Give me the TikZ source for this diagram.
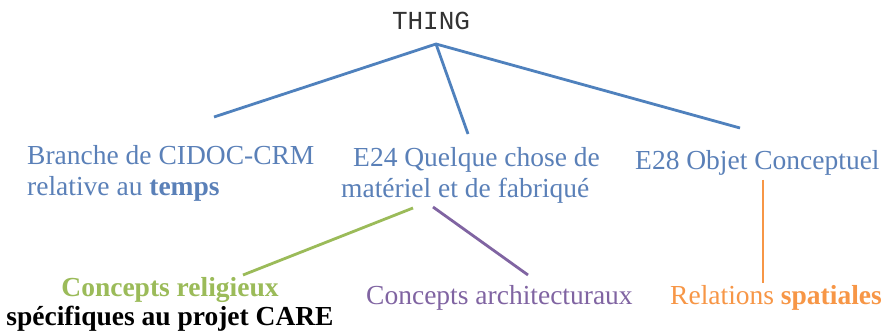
\documentclass[tikz,border=0pt]{standalone}
\usepackage{fontspec}
\setmainfont{Liberation Serif}
\newfontfamily\monofnt{Liberation Mono}
\definecolor{cblue}{HTML}{4F81BD}
\definecolor{ctblue}{HTML}{5A80B8}
\definecolor{cgreen}{HTML}{9BBB59}
\definecolor{cpurple}{HTML}{8064A2}
\definecolor{corange}{HTML}{F79646}
\begin{document}
\begin{tikzpicture}[x=1pt,y=-1pt,
  lbl/.style={inner sep=0pt,anchor=base west,font=\fontsize{27.5}{33}\selectfont},
  lblc/.style={lbl,anchor=base},
  link/.style={line width=2.8pt}]
\useasboundingbox[fill=white] (0,0) rectangle (885,336);
\node[inner sep=0pt,anchor=base,font=\monofnt\fontsize{26}{30}\selectfont,text=black!80] (thing) at (431,30) {THING};
% level 1
\node[lbl,text=ctblue] (b1) at (27,165) {Branche de CIDOC-CRM};
\node[lbl,text=ctblue] (b2) at (27,196) {relative au \textbf{temps}};
\node[lbl,text=ctblue] (e1) at (353,167) {E24 Quelque chose de};
\node[lbl,text=ctblue] (e2) at (341,198) {matériel et de fabriqué};
\node[lbl,text=ctblue] (o1) at (635,170) {E28 Objet Conceptuel};
% level 2
\node[lblc,text=cgreen,font=\bfseries\fontsize{27.5}{33}\selectfont] (r1) at (170,297) {Concepts religieux};
\node[lblc,text=black,font=\bfseries\fontsize{27.5}{33}\selectfont] (r2) at (170,325) {spécifiques au projet CARE};
\node[lbl,text=cpurple] (a1) at (366,305) {Concepts architecturaux};
\node[lbl,text=corange] (s1) at (670,305) {Relations \textbf{spatiales}};
% connector ends
\coordinate (apex) at (436,44);
\coordinate (bend) at (214,117);
\coordinate (eend) at (468,134);
\coordinate (oend) at (740,128);
\coordinate (etop1) at (413,208);
\coordinate (etop2) at (433,207);
\coordinate (otop) at (763,180);
\coordinate (rend) at (243,275);
\coordinate (aend) at (528,275);
\coordinate (send) at (763,283);
\draw[link,cblue] (bend) -- (apex) -- (oend);
\draw[link,cblue] (apex) -- (eend);
\draw[link,cgreen] (etop1) -- (rend);
\draw[link,cpurple] (etop2) -- (aend);
\draw[link,corange] (otop) -- (send);
\end{tikzpicture}
\end{document}
